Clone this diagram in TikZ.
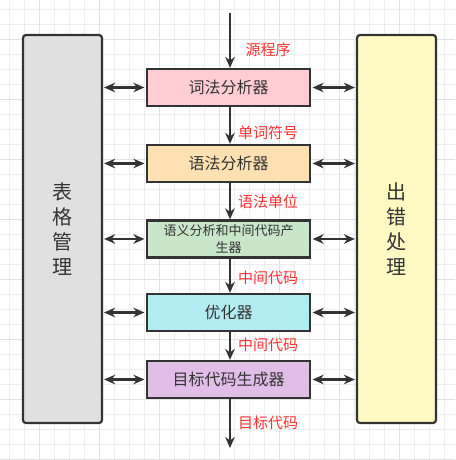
\documentclass[tikz,border=0pt]{standalone}
\usepackage{fontspec}
\newfontfamily\cjk{Noto Sans CJK SC}
\usetikzlibrary{arrows.meta}
\definecolor{ink}{HTML}{333333}
\definecolor{lbl}{HTML}{FF3333}
\definecolor{gridminor}{HTML}{EDEDED}
\definecolor{gridmajor}{HTML}{E2E2E2}
\tikzset{
  stage/.style={draw=ink, line width=2.2pt, minimum width=163pt, minimum height=37pt, inner sep=0pt, text=ink, font=\cjk\fontsize{16}{18}\selectfont, align=center},
  side/.style={draw=ink, line width=2.2pt, rounded corners=3pt, minimum width=79pt, minimum height=388pt, inner sep=0pt, text=ink, font=\cjk\fontsize{20}{25}\selectfont, align=center},
  tip/.tip={Stealth[length=11pt,width=9.5pt,inset=3.5pt]},
  flow/.style={draw=ink, line width=2.2pt, -tip},
  dbl/.style={draw=ink, line width=2.2pt, tip-tip, shorten <=1.5pt, shorten >=1pt},
  lab/.style={text=lbl, anchor=west, inner sep=0pt, font=\cjk\fontsize{15}{17}\selectfont}
}
\begin{document}
\begin{tikzpicture}[x=1pt,y=-1pt]
\useasboundingbox (0,0) rectangle (455,460);
\fill[white] (0,0) rectangle (455,460);
\foreach \k in {0,...,30} {
  \draw[gridminor, line width=0.8pt] (9.5+15*\k,0) -- (9.5+15*\k,460);
  \draw[gridminor, line width=0.8pt] (0,9.5+15*\k) -- (455,9.5+15*\k);
}
\foreach \k in {0,...,7} {
  \draw[gridmajor, line width=1pt] (39.5+60*\k,0) -- (39.5+60*\k,460);
  \draw[gridmajor, line width=1pt] (0,39.5+60*\k) -- (455,39.5+60*\k);
}
\node[side, fill={rgb,255:red,224;green,224;blue,224}] (tbl) at (62.5,229) {表\\格\\管\\理};
\node[side, fill={rgb,255:red,255;green,249;blue,196}] (err) at (396.5,229) {出\\错\\处\\理};

\node[stage, fill={rgb,255:red,255;green,205;blue,210}] (b1) at (228.5,87.5) {词法分析器};
\node[stage, fill={rgb,255:red,255;green,224;blue,178}] (b2) at (228.5,163.5) {语法分析器};
\node[stage, fill={rgb,255:red,200;green,230;blue,201}, font=\cjk\fontsize{13}{17.5}\selectfont] (b3) at (228.5,239) {语义分析和中间代码产\\生器};
\node[stage, fill={rgb,255:red,178;green,235;blue,242}] (b4) at (228.5,312.5) {优化器};
\node[stage, fill={rgb,255:red,225;green,190;blue,231}] (b5) at (228.5,379.5) {目标代码生成器};

\coordinate (src) at (230,13);
\coordinate (out) at (230,448);
\draw[flow] (src) -- (src |- b1.north);
\draw[flow] (b1.south -| src) -- (src |- b2.north);
\draw[flow] (b2.south -| src) -- (src |- b3.north);
\draw[flow] (b3.south -| src) -- (src |- b4.north);
\draw[flow] (b4.south -| src) -- (src |- b5.north);
\draw[flow] (b5.south -| src) -- (out);

\foreach \b in {b1,b2,b3,b4,b5} {
  \draw[dbl] (\b.west) -- (\b.west -| tbl.east);
  \draw[dbl] (\b.east) -- (\b.east -| err.west);
}

\node[lab] (l0) at (245.5,50) {源程序};
\node[lab] (l1) at (238,132.5) {单词符号};
\node[lab] (l2) at (238,202) {语法单位};
\node[lab] (l3) at (238,278) {中间代码};
\node[lab] (l4) at (238,344.5) {中间代码};
\node[lab] (l5) at (238,422.5) {目标代码};
\end{tikzpicture}
\end{document}
